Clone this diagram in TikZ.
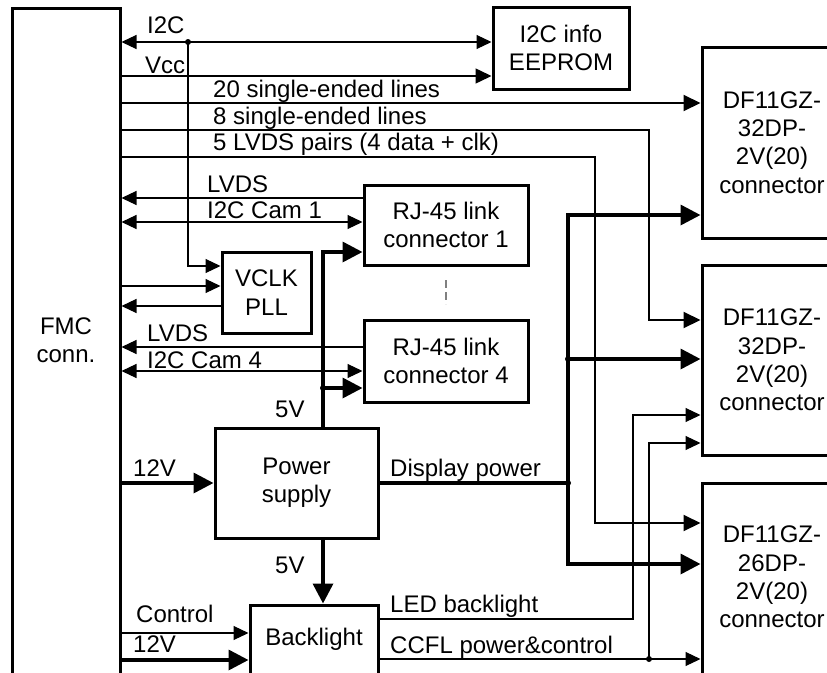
\documentclass[tikz,border=0pt]{standalone}
\usepackage{fontspec}
\setmainfont{Liberation Sans}
\usetikzlibrary{arrows.meta}
\begin{document}
\begin{tikzpicture}[x=1pt,y=-1pt,
  every node/.style={font=\fontsize{24}{28.4}\selectfont},
  box/.style={draw, line width=3pt, inner sep=0pt, align=center},
  txt/.style={inner sep=0pt, align=center},
  lbl/.style={anchor=base west, inner sep=0pt},
  dot/.style={circle, fill, inner sep=0pt, minimum size=6pt},
  ln/.style={line width=1.1pt, >={Triangle[length=15pt,width=14pt]}},
  lnv/.style={line width=1.5pt, >={Triangle[length=16pt,width=15pt]}},
  lnm/.style={line width=2pt, >={Triangle[length=17pt,width=16pt]}},
  lnt/.style={line width=3.5pt, >={Triangle[length=20pt,width=20pt]}},
  dsh/.style={line width=1.1pt, gray, dash pattern=on 8pt off 4pt}]
\useasboundingbox (0,0) rectangle (827,672);
\clip (0,0) rectangle (827,672);

% boxes
\node[box, minimum width=108pt, minimum height=682pt] (fmc) at (66,349) {};
\node[txt] (fmctxt) at (66,340) {FMC\\conn.};
\node[box, minimum width=136pt, minimum height=82pt] (eeprom) at (561,48) {I2C info\\EEPROM};
\node[box, minimum width=140pt, minimum height=191pt] (df1) at (772,142.5) {DF11GZ-\\32DP-\\2V(20)\\connector};
\node[box, minimum width=140pt, minimum height=190pt] (df2) at (772,360) {DF11GZ-\\32DP-\\2V(20)\\connector};
\node[box, minimum width=140pt, minimum height=217pt] (df3) at (772,591.5) {};
\node[txt] (df3txt) at (772,577) {DF11GZ-\\26DP-\\2V(20)\\connector};
\node[box, minimum width=164pt, minimum height=80pt] (rj1) at (446,225) {RJ-45 link\\connector 1};
\node[box, minimum width=164pt, minimum height=82pt] (rj4) at (446,361) {RJ-45 link\\connector 4};
\node[box, minimum width=89pt, minimum height=81pt] (vclk) at (266.5,292.5) {VCLK\\PLL};
\node[box, minimum width=163pt, minimum height=110pt] (power) at (296.5,483) {Power\\supply};
\node[box, minimum width=128pt, minimum height=95pt] (backl) at (314,652.5) {};
\node[txt] (backltxt) at (314,639) {Backlight};

% level coordinates
\coordinate (yI2C) at (0,42);
\coordinate (yVcc) at (0,76);
\coordinate (y20) at (0,103);
\coordinate (y8) at (0,130);
\coordinate (y5) at (0,157);
\coordinate (yL1) at (0,198);
\coordinate (yC1) at (0,222);
\coordinate (yR1) at (0,252);
\coordinate (yV1) at (0,266);
\coordinate (yV2) at (0,286);
\coordinate (yV3) at (0,306);
\coordinate (yL4) at (0,347);
\coordinate (yC4) at (0,371);
\coordinate (yD1) at (0,215);
\coordinate (y8b) at (0,320);
\coordinate (yLED) at (0,415);
\coordinate (yCC) at (0,443);
\coordinate (y5b) at (0,523);
\coordinate (yD3) at (0,564);
\coordinate (yCtl) at (0,633);
\coordinate (y12) at (0,660);
\coordinate (yLEDo) at (0,619);
\coordinate (yCCo) at (0,659);
\coordinate (x323) at (323,0);
\coordinate (c8) at (649,200);
\coordinate (c5) at (595,300);
\coordinate (cLED) at (633,500);
\coordinate (da) at (446,280);
\coordinate (db) at (446,304);

% dots
\node[dot] (dI2C) at (188,42) {};
\node[dot] (d5) at (323,388) {};
\node[dot] (dDisp) at (568,483) {};
\node[dot] (dBus) at (568,359) {};
\node[dot] (dCC) at (649,659) {};

% connectors
\draw[ln,<->] (fmc.east |- yI2C) -- (eeprom.west |- yI2C);
\draw[ln,->] (dI2C.center) |- (vclk.west |- yV1);
\draw[lnv,->] (fmc.east |- yVcc) -- (eeprom.west |- yVcc);
\draw[lnm,->] (fmc.east |- y20) -- (df1.west |- y20);
\draw[lnm,->] (fmc.east |- y8) -| (c8) |- (df2.west |- y8b);
\draw[lnm,->] (fmc.east |- y5) -| (c5) |- (df3.west |- y5b);
\draw[ln,->] (rj1.west |- yL1) -- (fmc.east |- yL1);
\draw[ln,<->] (fmc.east |- yC1) -- (rj1.west |- yC1);
\draw[ln,->] (fmc.east |- yV2) -- (vclk.west |- yV2);
\draw[ln,->] (vclk.west |- yV3) -- (fmc.east |- yV3);
\draw[dsh] (da) -- (db);
\draw[ln,->] (rj4.west |- yL4) -- (fmc.east |- yL4);
\draw[ln,<->] (fmc.east |- yC4) -- (rj4.west |- yC4);
\draw[lnt,->] (power.north -| x323) |- (rj1.west |- yR1);
\draw[lnt,->] (d5.center) -- (rj4.west |- d5);
\draw[lnt,->] (fmc.east |- power.west) -- (power.west);
\draw[lnt] (power.east) -- (dDisp.center);
\draw[lnt,->] (dDisp.center) |- (df1.west |- yD1);
\draw[lnt,->] (dDisp.center) |- (df3.west |- yD3);
\draw[lnt,->] (dBus.center) -- (df2.west |- dBus);
\draw[lnt,->] (power.south -| x323) -- (backl.north -| x323);
\draw[ln,->] (fmc.east |- yCtl) -- (backl.west |- yCtl);
\draw[lnt,->] (fmc.east |- y12) -- (backl.west |- y12);
\draw[ln,->] (backl.east |- yLEDo) -| (cLED) |- (df2.west |- yLED);
\draw[ln,->] (backl.east |- yCCo) -- (df3.west |- yCCo);
\draw[ln,->] (dCC.center) |- (df2.west |- yCC);

% labels
\node[lbl] (tI2C) at (147,33) {I2C};
\node[lbl] (tVcc) at (145,73) {Vcc};
\node[lbl] (t20) at (213,97) {20 single-ended lines};
\node[lbl] (t8) at (213,124) {8 single-ended lines};
\node[lbl] (t5) at (213,150) {5 LVDS pairs (4 data + clk)};
\node[lbl] (tL1) at (207,192) {LVDS};
\node[lbl] (tL4) at (147,341) {LVDS};
\node[lbl] (tC1) at (207,218) {I2C Cam 1};
\node[lbl] (tC4) at (147,368) {I2C Cam 4};
\node[lbl] (t5a) at (275,417) {5V};
\node[lbl] (t12a) at (133,476) {12V};
\node[lbl] (tDisp) at (390,476) {Display power};
\node[lbl] (t5b) at (275,573) {5V};
\node[lbl] (tCtl) at (136,622) {Control};
\node[lbl] (t12b) at (133,652) {12V};
\node[lbl] (tLED) at (390,612) {LED backlight};
\node[lbl] (tCC) at (390,653) {CCFL power\&control};
\end{tikzpicture}
\end{document}
